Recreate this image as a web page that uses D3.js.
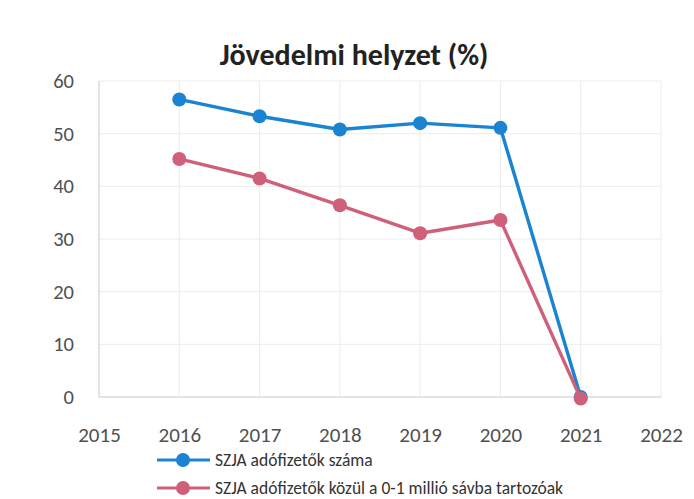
<!DOCTYPE html>
<html><head><meta charset="utf-8">
<script src="https://cdn.jsdelivr.net/npm/d3@7"></script>
<style>body{margin:0;background:#fff}</style>
</head><body>
<svg id="c" width="694" height="499"></svg>
<script>
const years = [2016, 2017, 2018, 2019, 2020, 2021];
const seriesNames = ["SZJA adófizetők száma", "SZJA adófizetők közül a 0-1 millió sávba tartozóak"];
const blueValues = [56.5, 53.3, 50.8, 52.0, 51.1, 0];
const redValues = [45.2, 41.5, 36.4, 31.1, 33.6, -0.3];
const xTicks = [2015, 2016, 2017, 2018, 2019, 2020, 2021, 2022];
const yTicks = [0, 10, 20, 30, 40, 50, 60];
const colors = ["#1b84d2", "#cf6079"];

const svg = d3.select("#c");
const x = d3.scaleLinear().domain([2015, 2022]).range([99, 661]);
const y = d3.scaleLinear().domain([0, 60]).range([397, 81]);
const font = "Calibri, Carlito, Lato, 'Open Sans', sans-serif";

// gridlines
svg.append("g").selectAll("line.h").data(yTicks).join("line")
  .attr("x1", x(2015)).attr("x2", x(2022))
  .attr("y1", d => y(d)).attr("y2", d => y(d))
  .attr("stroke", d => d === 0 ? "#c8c8c8" : "#ececec").attr("stroke-width", 1);
svg.append("g").selectAll("line.v").data(xTicks).join("line")
  .attr("x1", d => x(d)).attr("x2", d => x(d))
  .attr("y1", y(60)).attr("y2", y(0))
  .attr("stroke", d => d === 2015 ? "#c8c8c8" : "#ececec").attr("stroke-width", 1);

// axes (labels only)
const yAxis = svg.append("g").attr("transform", `translate(${x(2015) - 25},0)`)
  .call(d3.axisLeft(y).tickValues(yTicks).tickSize(0).tickPadding(0));
yAxis.select(".domain").remove();
yAxis.selectAll("text").attr("font-family", font).attr("font-size", 20.5).attr("fill", "#505050");

const xAxis = svg.append("g").attr("transform", `translate(0,${y(0) + 30})`)
  .call(d3.axisBottom(x).tickValues(xTicks).tickFormat(d3.format("d")).tickSize(0).tickPadding(0));
xAxis.select(".domain").remove();
xAxis.selectAll("text").attr("font-family", font).attr("font-size", 21).attr("fill", "#505050");

// title
svg.append("text").attr("x", 354).attr("y", 65).attr("text-anchor", "middle")
  .attr("font-family", font).attr("font-weight", "bold").attr("font-size", 30).attr("fill", "#222")
  .text("Jövedelmi helyzet (%)");

// series
const line = d3.line().x((d, i) => x(years[i])).y(d => y(d));
[blueValues, redValues].forEach((vals, s) => {
  const g = svg.append("g");
  g.append("path").datum(vals).attr("d", line).attr("fill", "none")
    .attr("stroke", colors[s]).attr("stroke-width", 3.4).attr("stroke-linejoin", "round");
  g.selectAll("circle").data(vals).join("circle")
    .attr("cx", (d, i) => x(years[i])).attr("cy", d => y(d)).attr("r", 7)
    .attr("fill", colors[s]);
});

// legend
const leg = svg.append("g");
seriesNames.forEach((name, i) => {
  const ly = 460 + i * 28;
  leg.append("line").attr("x1", 157).attr("x2", 210).attr("y1", ly).attr("y2", ly)
    .attr("stroke", colors[i]).attr("stroke-width", 3);
  leg.append("circle").attr("cx", 183).attr("cy", ly).attr("r", 7).attr("fill", colors[i]);
  leg.append("text").attr("x", 215).attr("y", ly + 5.5).attr("font-family", font)
    .attr("font-size", 17.5).attr("fill", "#333").text(name);
});
</script>
</body></html>
